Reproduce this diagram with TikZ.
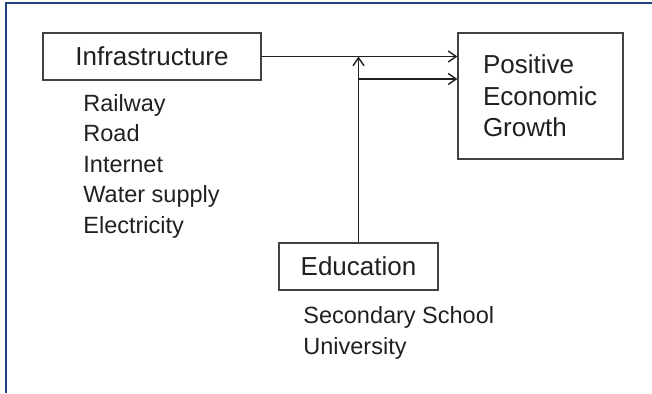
\documentclass[tikz,border=0pt]{standalone}
\usepackage{fontspec}
\setmainfont{Liberation Sans}
\usetikzlibrary{arrows.meta,positioning}
\definecolor{framecol}{RGB}{32,64,128}
\definecolor{inkcol}{RGB}{35,31,32}

\begin{document}
\begin{tikzpicture}[x=0.5pt, y=-0.5pt,
  factor/.style={draw=inkcol!85, line width=0.6pt, text=inkcol, inner sep=0pt,
    font=\fontsize{13}{15.75}\selectfont},
  itemlist/.style={text=inkcol, inner sep=0pt, align=left, anchor=base west,
    font=\fontsize{11.75}{15.2}\selectfont},
  link/.style={draw=inkcol, line width=0.9pt,
    -{Straight Barb[length=4pt, width=5.5pt, line width=0.7pt]}}]

\useasboundingbox (0,0) rectangle (652,393);

% Page rules (top and left only)
\draw[framecol, line width=0.6pt] (6,393) -- (6,3) -- (652,3);

% Boxes
\node[factor, minimum width=109pt, minimum height=23.5pt] (infra) at (152,56.5) {Infrastructure};
\node[factor, minimum width=82.5pt, minimum height=63pt, text width=57.5pt, align=left]
  (growth) at (540.5,96) {Positive\\Economic\\Growth};
\node[factor, minimum width=79.5pt, minimum height=23.5pt] (edu) at (358.5,266.5) {Education};

% Item lists under the boxes (placed by their last baseline)
\node[itemlist] (infralist) at (83,233) {Railway\\Road\\Internet\\Water supply\\Electricity};
\node[itemlist] (edulist) at (303,354) {Secondary School\\University};

% Connectors
\coordinate (join) at (infra.east -| edu.north);
\coordinate (split) at ([yshift=-11.25pt]join);
\draw[link] (infra.east) -- (infra.east -| growth.west);
\draw[link] (edu.north) -- (join);
\draw[link] (split) -- (split -| growth.west);

\end{tikzpicture}
\end{document}
